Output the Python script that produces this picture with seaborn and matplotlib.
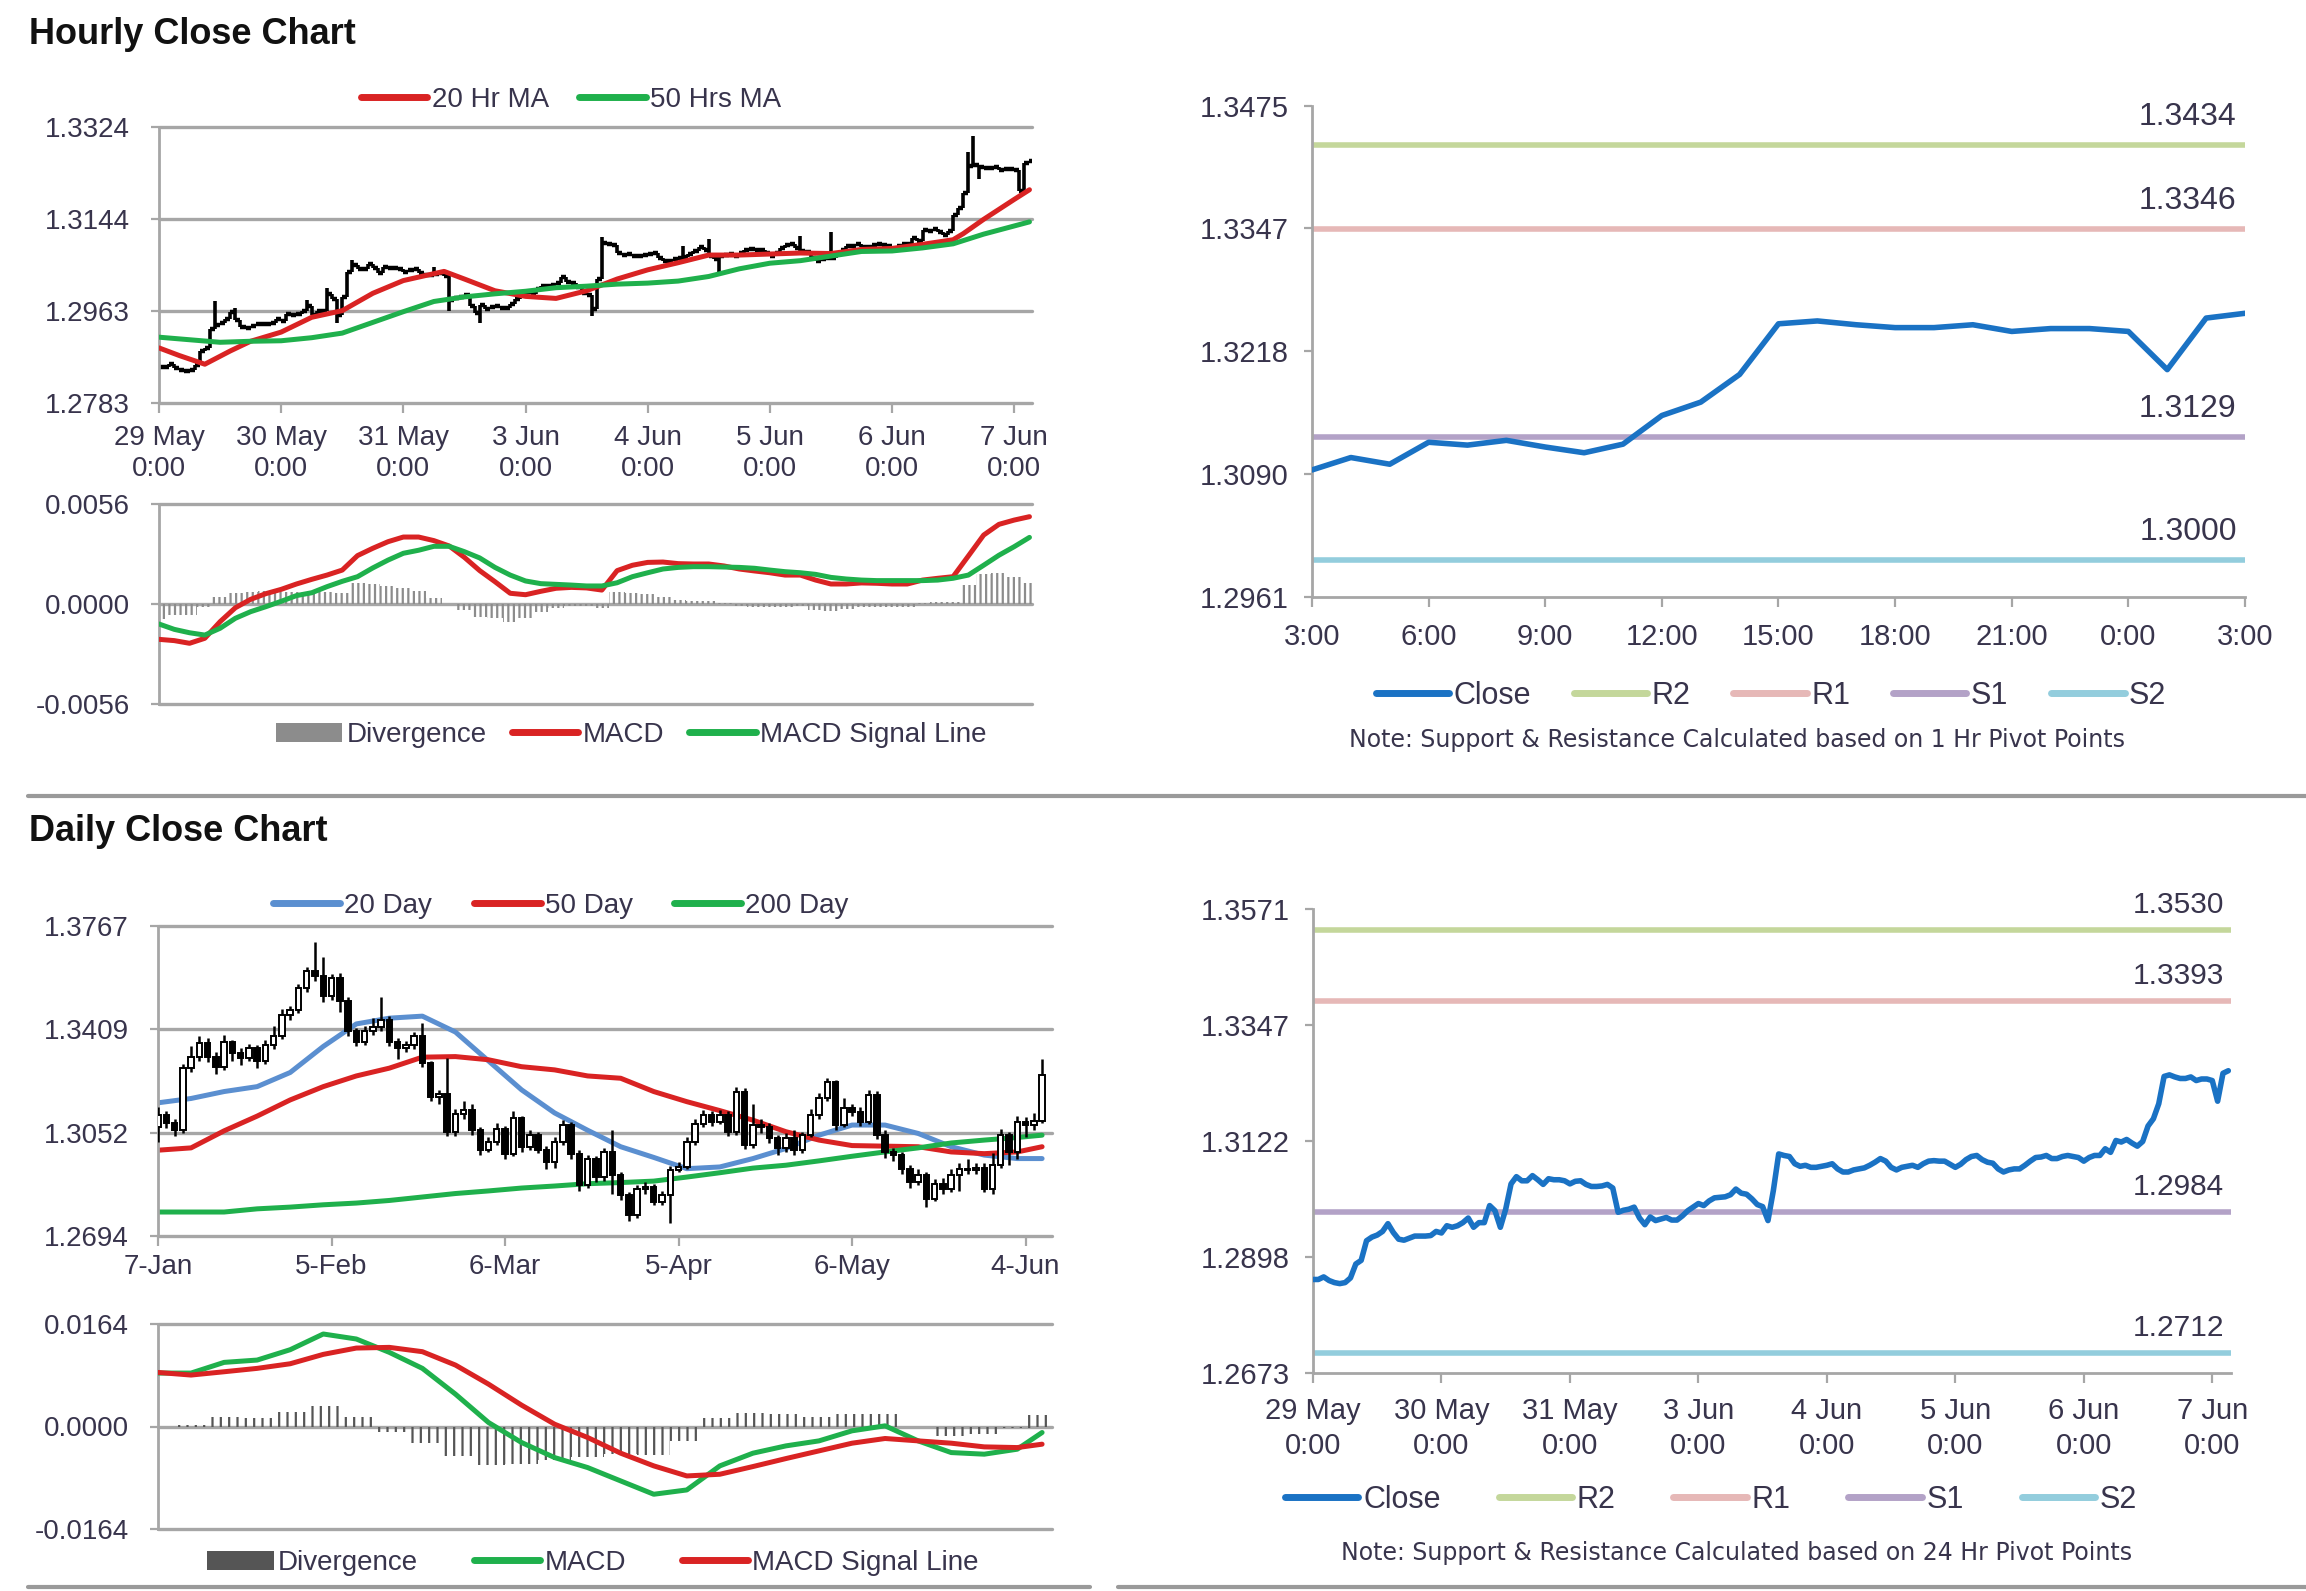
import numpy as np
import pandas as pd
import matplotlib
matplotlib.use("Agg")
import matplotlib.pyplot as plt
import seaborn as sns
from matplotlib.lines import Line2D
from matplotlib.patches import Patch, Rectangle

sns.set_theme(style="white")
plt.rcParams['font.family'] = ['Liberation Sans', 'DejaVu Sans']
plt.rcParams['hatch.linewidth'] = 1.6

# ---------------- hourly data: 29 May 0:00 -> 7 Jun 3:00 ----------------
hourly_first_open = 1.2850
hourly_close = [
    # 29 May
    1.2854, 1.2854, 1.2859, 1.2852, 1.2848, 1.2846, 1.2848, 1.2857, 1.2884, 1.2891, 1.2929, 1.2936,
    1.2940, 1.2947, 1.2962, 1.2945, 1.2932, 1.2930, 1.2934, 1.2938, 1.2938, 1.2938, 1.2939, 1.2947,
    # 30 May
    1.2944, 1.2958, 1.2955, 1.2958, 1.2964, 1.2973, 1.2955, 1.2964, 1.2964, 1.2997, 1.2987, 1.2955,
    1.2990, 1.3039, 1.3053, 1.3045, 1.3045, 1.3055, 1.3047, 1.3038, 1.3049, 1.3047, 1.3047, 1.3045,
    # 31 May
    1.3039, 1.3044, 1.3045, 1.3038, 1.3034, 1.3034, 1.3035, 1.3038, 1.3031, 1.2984, 1.2988, 1.2990,
    1.2994, 1.2973, 1.2960, 1.2975, 1.2968, 1.2971, 1.2974, 1.2969, 1.2969, 1.2977, 1.2987, 1.2994,
    # 3 Jun
    1.3001, 1.2997, 1.3006, 1.3012, 1.3013, 1.3014, 1.3018, 1.3029, 1.3021, 1.3019, 1.3010, 1.2999,
    1.2995, 1.2968, 1.3026, 1.3097, 1.3094, 1.3092, 1.3078, 1.3073, 1.3075, 1.3071, 1.3071, 1.3073,
    # 4 Jun
    1.3075, 1.3078, 1.3068, 1.3062, 1.3062, 1.3066, 1.3068, 1.3070, 1.3075, 1.3081, 1.3088, 1.3083,
    1.3071, 1.3066, 1.3071, 1.3073, 1.3075, 1.3071, 1.3078, 1.3083, 1.3084, 1.3083, 1.3083, 1.3077,
    # 5 Jun
    1.3071, 1.3077, 1.3086, 1.3092, 1.3094, 1.3086, 1.3081, 1.3079, 1.3068, 1.3062, 1.3066, 1.3068,
    1.3068, 1.3075, 1.3083, 1.3090, 1.3091, 1.3094, 1.3088, 1.3088, 1.3092, 1.3094, 1.3092, 1.3090,
    # 6 Jun
    1.3083, 1.3090, 1.3094, 1.3094, 1.3107, 1.3100, 1.3123, 1.3120, 1.3125, 1.3118, 1.3112, 1.3121,
    1.3151, 1.3165, 1.3194, 1.3247, 1.3250, 1.3246, 1.3243, 1.3243, 1.3246, 1.3239, 1.3242, 1.3242,
    # 7 Jun
    1.3239, 1.3199, 1.3253, 1.3258,
]
spike_hi_hours = [11, 15, 29, 33, 38, 54, 87, 103, 108, 126, 132, 159, 160]
spike_hi_values = [1.2982, 1.2970, 1.2985, 1.3008, 1.3063, 1.3050, 1.3109, 1.3091, 1.3104,
                   1.3110, 1.3119, 1.3275, 1.3306]
spike_lo_hours = [35, 57, 63, 85, 110, 161, 169]
spike_lo_values = [1.2940, 1.2964, 1.2940, 1.2953, 1.3037, 1.3223, 1.3200]

ma20_hr_hours = [0, 4, 9, 14, 18, 24, 30, 36, 42, 48, 52, 56, 60, 66, 72, 78, 84, 90, 96, 102,
                 108, 114, 120, 126, 132, 138, 144, 150, 156, 158, 162, 168, 171]
ma20_hr = [1.2891, 1.2876, 1.2859, 1.2885, 1.2904, 1.2922, 1.2951, 1.2964, 1.2998, 1.3023, 1.3032,
           1.3041, 1.3026, 1.3003, 1.2992, 1.2988, 1.3003, 1.3026, 1.3044, 1.3058, 1.3073, 1.3073,
           1.3075, 1.3077, 1.3076, 1.3084, 1.3086, 1.3094, 1.3103, 1.3115, 1.3143, 1.3182, 1.3201]
ma50_hr_hours = [0, 6, 12, 18, 24, 30, 36, 42, 48, 54, 60, 66, 72, 78, 84, 90, 96, 102, 108, 114,
                 120, 126, 132, 138, 144, 150, 156, 162, 168, 171]
ma50_hr = [1.2912, 1.2907, 1.2902, 1.2904, 1.2905, 1.2911, 1.2920, 1.2941, 1.2962, 1.2982, 1.2991,
           1.2997, 1.3002, 1.3009, 1.3012, 1.3016, 1.3018, 1.3022, 1.3031, 1.3046, 1.3057, 1.3062,
           1.3071, 1.3080, 1.3081, 1.3087, 1.3095, 1.3114, 1.3130, 1.3138]

macd_hr_hours = list(range(0, 172, 3))
macd_hr = [-0.00198, -0.00205, -0.00220, -0.00192, -0.00099, -0.00021, 0.00026, 0.00058, 0.00082,
           0.00112, 0.00138, 0.00162, 0.00190, 0.00271, 0.00312, 0.00349, 0.00375, 0.00375, 0.00355,
           0.00325, 0.00261, 0.00187, 0.00125, 0.00060, 0.00052, 0.00071, 0.00088, 0.00093, 0.00090,
           0.00078, 0.00187, 0.00217, 0.00233, 0.00235, 0.00226, 0.00224, 0.00224, 0.00213, 0.00196,
           0.00185, 0.00175, 0.00162, 0.00162, 0.00134, 0.00112, 0.00112, 0.00118, 0.00116, 0.00112,
           0.00112, 0.00134, 0.00144, 0.00153, 0.00269, 0.00386, 0.00446, 0.00470, 0.00489]
signal_hr = [-0.00112, -0.00142, -0.00161, -0.00174, -0.00136, -0.00080, -0.00043, -0.00015, 0.00015,
             0.00047, 0.00063, 0.00097, 0.00127, 0.00153, 0.00202, 0.00246, 0.00284, 0.00301, 0.00323,
             0.00323, 0.00293, 0.00258, 0.00205, 0.00162, 0.00129, 0.00114, 0.00110, 0.00106, 0.00101,
             0.00101, 0.00119, 0.00153, 0.00175, 0.00196, 0.00205, 0.00209, 0.00209, 0.00207, 0.00205,
             0.00200, 0.00190, 0.00181, 0.00175, 0.00166, 0.00149, 0.00140, 0.00134, 0.00131, 0.00131,
             0.00131, 0.00131, 0.00134, 0.00144, 0.00162, 0.00217, 0.00273, 0.00321, 0.00373]

hour_ticks = [0, 24, 48, 72, 96, 120, 144, 168]
hour_tick_labels = ["29 May\n0:00", "30 May\n0:00", "31 May\n0:00", "3 Jun\n0:00",
                    "4 Jun\n0:00", "5 Jun\n0:00", "6 Jun\n0:00", "7 Jun\n0:00"]
last_day_labels = ["3:00", "6:00", "9:00", "12:00", "15:00", "18:00", "21:00", "0:00", "3:00"]

pivot_names = ["R2", "R1", "S1", "S2"]
pivot_colors = ["#c4d79b", "#e6b8b7", "#b3a2c7", "#93cddd"]
pivots_1hr = [1.3434, 1.3346, 1.3129, 1.3000]
pivots_24hr = [1.3530, 1.3393, 1.2984, 1.2712]

# ---------------- daily data: 7 Jan -> 6 Jun ----------------
daily_first_open = 1.3072
daily_close = [
    1.3113, 1.3084, 1.3060, 1.3275, 1.3315, 1.3361, 1.3315, 1.3280, 1.3367, 1.3327,
    1.3309, 1.3344, 1.3298, 1.3356, 1.3385, 1.3460, 1.3477, 1.3552, 1.3610, 1.3593,
    1.3523, 1.3587, 1.3506, 1.3402, 1.3367, 1.3402, 1.3419, 1.3442, 1.3367, 1.3344,
    1.3356, 1.3385, 1.3292, 1.3176, 1.3185, 1.3055, 1.3118, 1.3130, 1.3060, 1.2991,
    1.3020, 1.3066, 1.2979, 1.3101, 1.3003, 1.3043, 1.2991, 1.2950, 1.3020, 1.3078,
    1.2979, 1.2869, 1.2962, 1.2898, 1.2985, 1.2904, 1.2835, 1.2765, 1.2858, 1.2864,
    1.2812, 1.2835, 1.2922, 1.2933, 1.3020, 1.3081, 1.3113, 1.3089, 1.3113, 1.3055,
    1.3194, 1.3008, 1.3078, 1.3072, 1.3032, 1.2997, 1.3032, 1.2991, 1.3043, 1.3113,
    1.3170, 1.3228, 1.3078, 1.3136, 1.3124, 1.3089, 1.3182, 1.3043, 1.2985, 1.2974,
    1.2927, 1.2881, 1.2904, 1.2823, 1.2873, 1.2858, 1.2904, 1.2927, 1.2924, 1.2931,
    1.2858, 1.2939, 1.3043, 1.2985, 1.3089, 1.3078, 1.3092, 1.3250,
]
daily_high = [
    1.3141, 1.3128, 1.3100, 1.3290, 1.3350, 1.3385, 1.3380, 1.3330, 1.3390, 1.3372,
    1.3345, 1.3360, 1.3355, 1.3372, 1.3420, 1.3478, 1.3490, 1.3565, 1.3625, 1.3710,
    1.3660, 1.3600, 1.3605, 1.3520, 1.3415, 1.3420, 1.3450, 1.3520, 1.3455, 1.3380,
    1.3370, 1.3400, 1.3430, 1.3300, 1.3200, 1.3310, 1.3135, 1.3160, 1.3150, 1.3070,
    1.3035, 1.3085, 1.3075, 1.3125, 1.3110, 1.3060, 1.3055, 1.3005, 1.3035, 1.3095,
    1.3090, 1.2990, 1.2975, 1.2970, 1.3000, 1.3060, 1.2915, 1.2845, 1.2870, 1.2880,
    1.2875, 1.2850, 1.2935, 1.2950, 1.3035, 1.3100, 1.3130, 1.3125, 1.3130, 1.3125,
    1.3210, 1.3205, 1.3150, 1.3100, 1.3085, 1.3045, 1.3050, 1.3060, 1.3055, 1.3135,
    1.3190, 1.3240, 1.3235, 1.3170, 1.3150, 1.3140, 1.3200, 1.3195, 1.3060, 1.3000,
    1.2985, 1.2940, 1.2925, 1.2915, 1.2890, 1.2895, 1.2925, 1.2945, 1.2960, 1.2945,
    1.2945, 1.2982, 1.3063, 1.3055, 1.3109, 1.3106, 1.3119, 1.3306,
]
daily_low = [
    1.3020, 1.3068, 1.3040, 1.3052, 1.3262, 1.3300, 1.3295, 1.3255, 1.3270, 1.3300,
    1.3285, 1.3300, 1.3275, 1.3290, 1.3340, 1.3375, 1.3440, 1.3465, 1.3540, 1.3575,
    1.3505, 1.3510, 1.3470, 1.3385, 1.3350, 1.3355, 1.3390, 1.3405, 1.3350, 1.3305,
    1.3330, 1.3340, 1.3280, 1.3160, 1.3150, 1.3040, 1.3040, 1.3100, 1.3045, 1.2975,
    1.2985, 1.3010, 1.2960, 1.2970, 1.2985, 1.2990, 1.2980, 1.2925, 1.2930, 1.3010,
    1.2960, 1.2850, 1.2860, 1.2880, 1.2885, 1.2840, 1.2820, 1.2745, 1.2755, 1.2840,
    1.2800, 1.2800, 1.2740, 1.2915, 1.2925, 1.3010, 1.3070, 1.3075, 1.3080, 1.3040,
    1.3045, 1.2995, 1.3000, 1.3050, 1.3015, 1.2975, 1.2985, 1.2975, 1.2980, 1.3035,
    1.3100, 1.3160, 1.3060, 1.3070, 1.3110, 1.3075, 1.3080, 1.3030, 1.2965, 1.2955,
    1.2910, 1.2860, 1.2870, 1.2795, 1.2815, 1.2840, 1.2845, 1.2850, 1.2910, 1.2910,
    1.2845, 1.2840, 1.2930, 1.2940, 1.2960, 1.3037, 1.3060, 1.3085,
]

ma_day_idx = [0, 4, 8, 12, 16, 20, 24, 28, 32, 36, 40, 44, 48, 52, 56, 60, 64, 68, 72, 76,
              80, 84, 88, 92, 96, 100, 104, 107]
ma20_day = [1.3155, 1.3170, 1.3194, 1.3211, 1.3260, 1.3350, 1.3428, 1.3448, 1.3455, 1.3400,
            1.3300, 1.3200, 1.3120, 1.3060, 1.3003, 1.2966, 1.2927, 1.2933, 1.2962, 1.2997,
            1.3043, 1.3078, 1.3078, 1.3049, 1.3003, 1.2974, 1.2962, 1.2962]
ma50_day = [1.2991, 1.2999, 1.3058, 1.3109, 1.3165, 1.3211, 1.3248, 1.3275, 1.3313, 1.3315,
            1.3304, 1.3280, 1.3269, 1.3248, 1.3240, 1.3194, 1.3159, 1.3128, 1.3095, 1.3055,
            1.3026, 1.3007, 1.3005, 1.3003, 1.2985, 1.2979, 1.2985, 1.3003]
ma200_day = [1.2777, 1.2777, 1.2777, 1.2788, 1.2794, 1.2802, 1.2808, 1.2817, 1.2829, 1.2841,
             1.2850, 1.2860, 1.2867, 1.2875, 1.2879, 1.2884, 1.2898, 1.2913, 1.2929, 1.2939,
             1.2954, 1.2970, 1.2985, 1.2999, 1.3016, 1.3026, 1.3035, 1.3043]
macd_day = [0.00855, 0.00855, 0.01026, 0.01063, 0.01229, 0.01480, 0.01400, 0.01186, 0.00930, 0.00518,
            0.00064, -0.00256, -0.00497, -0.00657, -0.00871, -0.01084, -0.01015, -0.00630, -0.00427,
            -0.00310, -0.00230, -0.00069, 0.00011, -0.00230, -0.00417, -0.00443, -0.00363, -0.00096]
signal_day = [0.00865, 0.00823, 0.00876, 0.00930, 0.01004, 0.01154, 0.01255, 0.01266, 0.01197,
              0.00983, 0.00678, 0.00342, 0.00037, -0.00176, -0.00427, -0.00630, -0.00791, -0.00764,
              -0.00641, -0.00513, -0.00390, -0.00267, -0.00192, -0.00230, -0.00267, -0.00326,
              -0.00337, -0.00283]

day_ticks = [0, 21, 42, 63, 84, 105]
day_tick_labels = ["7-Jan", "5-Feb", "6-Mar", "5-Apr", "6-May", "4-Jun"]

# ---------------- figure ----------------
W, H = 2306, 1591
fig = plt.figure(figsize=(W / 100, H / 100), dpi=100)
GRID = '#a6a6a6'
TXT = '#38344c'
RED = '#d92323'
GREEN = '#1fb04c'
BLUE20 = '#5b8fd0'
CLOSE = '#1a72c4'
FS = 20


def box(l, t, r, b):
    return [l / W, 1 - b / H, (r - l) / W, (b - t) / H]


def style_left(ax, yticks, ylabels, grid=True, ypad=15, xpad=8, fs=FS):
    ax.set_ylim(yticks[0], yticks[-1])
    ax.set_yticks(yticks)
    ax.set_yticklabels(ylabels)
    for s in ['top', 'right']:
        ax.spines[s].set_visible(False)
    ax.spines['left'].set_color(GRID)
    ax.spines['left'].set_linewidth(2)
    ax.spines['bottom'].set_color(GRID)
    ax.spines['bottom'].set_linewidth(2)
    if grid:
        ax.spines['bottom'].set_visible(False)
        for y in yticks:
            ax.axhline(y, color=GRID, lw=2.4, clip_on=False, zorder=0.5)
    ax.tick_params(axis='y', length=6, width=1.6, color=GRID, labelsize=fs, labelcolor=TXT,
                   direction='out', pad=ypad, left=True)
    ax.tick_params(axis='x', length=7, width=1.6, color=GRID, labelsize=fs, labelcolor=TXT,
                   direction='out', pad=xpad, bottom=True)
    ax.set_xlabel('')
    ax.set_ylabel('')


def add_legend(handles, labels, cx, cy, colsp, fs=FS):
    fig.legend(handles, labels, loc='center', bbox_to_anchor=(cx / W, 1 - cy / H),
               ncol=len(handles), frameon=False, fontsize=fs, handlelength=2.4,
               handletextpad=0.15, columnspacing=colsp, labelcolor=TXT)


def lh(color, lw=5):
    return Line2D([], [], color=color, lw=lw)


# titles and separators
fig.text(29 / W, 1 - 35 / H, "Hourly Close Chart", fontsize=26, fontweight='bold',
         va='center', ha='left', color='#111111')
fig.text(29 / W, 1 - 832 / H, "Daily Close Chart", fontsize=26, fontweight='bold',
         va='center', ha='left', color='#111111')
fig.add_artist(Line2D([28 / W, 1], [1 - 796 / H] * 2, color='#9a9a9a', lw=3))
fig.add_artist(Line2D([28 / W, 1090 / W], [1 - 1587 / H] * 2, color='#9a9a9a', lw=3))
fig.add_artist(Line2D([1118 / W, 1], [1 - 1587 / H] * 2, color='#9a9a9a', lw=3))

# ---- hourly OHLC bars with moving averages ----
ax1 = fig.add_axes(box(159, 127, 1032, 403))
h_idx = np.arange(len(hourly_close))
h_open = [hourly_first_open] + hourly_close[:-1]
h_hi = [max(o, c) for o, c in zip(h_open, hourly_close)]
h_lo = [min(o, c) for o, c in zip(h_open, hourly_close)]
for h, v in zip(spike_hi_hours, spike_hi_values):
    h_hi[h] = max(h_hi[h], v)
for h, v in zip(spike_lo_hours, spike_lo_values):
    h_lo[h] = min(h_lo[h], v)
ax1.vlines(h_idx, h_lo, h_hi, color='black', lw=2.6, zorder=2)
ax1.hlines(h_open, h_idx - 0.5, h_idx, color='black', lw=3.2, zorder=2)
ax1.hlines(hourly_close, h_idx, h_idx + 0.5, color='black', lw=3.2, zorder=2)
sns.lineplot(x=ma20_hr_hours, y=ma20_hr, ax=ax1, color=RED, linewidth=3.6, legend=False, zorder=3)
sns.lineplot(x=ma50_hr_hours, y=ma50_hr, ax=ax1, color=GREEN, linewidth=3.6, legend=False, zorder=3)
ax1.set_xlim(0, 171.5)
style_left(ax1, [1.2783, 1.2963, 1.3144, 1.3324], ["1.2783", "1.2963", "1.3144", "1.3324"], xpad=9)
ax1.set_xticks(hour_ticks)
ax1.set_xticklabels(hour_tick_labels, linespacing=1.22)
add_legend([lh(RED), lh(GREEN)], ["20 Hr MA", "50 Hrs MA"], 571, 100, 1.1)

# ---- hourly MACD ----
ax2 = fig.add_axes(box(159, 504, 1032, 704))
div_hr = np.array(macd_hr) - np.array(signal_hr)
ax2.bar(macd_hr_hours, div_hr, width=3, facecolor='none', edgecolor='#8c8c8c', hatch='|||',
        linewidth=0, zorder=1)
sns.lineplot(x=macd_hr_hours, y=macd_hr, ax=ax2, color=RED, linewidth=3.6, legend=False, zorder=3)
sns.lineplot(x=macd_hr_hours, y=signal_hr, ax=ax2, color=GREEN, linewidth=3.6, legend=False, zorder=3)
ax2.set_xlim(0, 171.5)
style_left(ax2, [-0.0056, 0.0, 0.0056], ["-0.0056", "0.0000", "0.0056"])
ax2.set_xticks([])
add_legend([Patch(facecolor='#8c8c8c', edgecolor='none'), lh(RED), lh(GREEN)],
           ["Divergence", "MACD", "MACD Signal Line"], 631, 735, 0.9)

# ---- last 24 hours with 1 hr pivots ----
ax3 = fig.add_axes(box(1312, 106, 2245, 597))
last_close = hourly_close[-25:]
for name, col, val in zip(pivot_names, pivot_colors, pivots_1hr):
    ax3.axhline(val, color=col, lw=4, zorder=1)
    ax3.annotate(f"{val:.4f}", xy=(24, val), xytext=(-6, 20), textcoords='offset points',
                 ha='right', va='center', fontsize=23, color=TXT)
sns.lineplot(x=np.arange(25), y=last_close, ax=ax3, color=CLOSE, linewidth=4, legend=False, zorder=3)
ax3.set_xlim(0, 24)
style_left(ax3, [1.2961, 1.3090, 1.3218, 1.3347, 1.3475],
           ["1.2961", "1.3090", "1.3218", "1.3347", "1.3475"], grid=False, ypad=11, xpad=12, fs=21)
ax3.set_xticks(range(0, 25, 3))
ax3.set_xticklabels(last_day_labels)
add_legend([lh(CLOSE)] + [lh(c) for c in pivot_colors], ["Close"] + pivot_names, 1771, 696, 1.4, fs=22)
fig.text(1737 / W, 1 - 740 / H, "Note: Support & Resistance Calculated based on 1 Hr Pivot Points",
         ha='center', va='center', fontsize=17, color=TXT, family='DejaVu Sans')

# ---- daily candles with moving averages ----
ax4 = fig.add_axes(box(158, 926, 1052, 1236))
sns.lineplot(x=ma_day_idx, y=ma20_day, ax=ax4, color=BLUE20, linewidth=3.6, legend=False, zorder=2)
sns.lineplot(x=ma_day_idx, y=ma50_day, ax=ax4, color=RED, linewidth=3.6, legend=False, zorder=2)
sns.lineplot(x=ma_day_idx, y=ma200_day, ax=ax4, color=GREEN, linewidth=3.6, legend=False, zorder=2)
d_open = [daily_first_open] + daily_close[:-1]
for i, (o, c, hi, lo) in enumerate(zip(d_open, daily_close, daily_high, daily_low)):
    ax4.vlines(i, min(lo, o, c), max(hi, o, c), color='black', lw=1.8, zorder=3)
    ax4.add_patch(Rectangle((i - 0.33, min(o, c)), 0.66, abs(c - o),
                            facecolor='white' if c > o else 'black', edgecolor='black',
                            lw=1.4, zorder=4))
ax4.set_xlim(0, 108.2)
style_left(ax4, [1.2694, 1.3052, 1.3409, 1.3767], ["1.2694", "1.3052", "1.3409", "1.3767"], xpad=6)
ax4.set_xticks(day_ticks)
ax4.set_xticklabels(day_tick_labels)
add_legend([lh(BLUE20), lh(RED), lh(GREEN)], ["20 Day", "50 Day", "200 Day"], 561, 906, 1.5)

# ---- daily MACD ----
ax5 = fig.add_axes(box(158, 1324, 1052, 1529))
div_day = np.array(macd_day) - np.array(signal_day)
ax5.bar(ma_day_idx, div_day, width=4, facecolor='none', edgecolor='#555555', hatch='||',
        linewidth=0, zorder=1)
sns.lineplot(x=ma_day_idx, y=macd_day, ax=ax5, color=GREEN, linewidth=3.6, legend=False, zorder=3)
sns.lineplot(x=ma_day_idx, y=signal_day, ax=ax5, color=RED, linewidth=3.6, legend=False, zorder=3)
ax5.set_xlim(0, 108.2)
style_left(ax5, [-0.0164, 0.0, 0.0164], ["-0.0164", "0.0000", "0.0164"])
ax5.set_xticks([])
add_legend([Patch(facecolor='#555555', edgecolor='none'), lh(GREEN), lh(RED)],
           ["Divergence", "MACD", "MACD Signal Line"], 593, 1563, 2.0)

# ---- hourly close with 24 hr pivots ----
ax6 = fig.add_axes(box(1313, 909, 2231, 1373))
for name, col, val in zip(pivot_names, pivot_colors, pivots_24hr):
    ax6.axhline(val, color=col, lw=4, zorder=1)
    ax6.annotate(f"{val:.4f}", xy=(171.5, val), xytext=(-5, 18), textcoords='offset points',
                 ha='right', va='center', fontsize=21.5, color=TXT)
sns.lineplot(x=h_idx, y=hourly_close, ax=ax6, color=CLOSE, linewidth=4, legend=False, zorder=3)
ax6.set_xlim(0, 171.5)
style_left(ax6, [1.2673, 1.2898, 1.3122, 1.3347, 1.3571],
           ["1.2673", "1.2898", "1.3122", "1.3347", "1.3571"], grid=False, ypad=11, xpad=10, fs=21)
ax6.set_xticks(hour_ticks)
ax6.set_xticklabels(hour_tick_labels, linespacing=1.35)
add_legend([lh(CLOSE)] + [lh(c) for c in pivot_colors], ["Close"] + pivot_names, 1711, 1500, 1.9, fs=22)
fig.text(1737 / W, 1 - 1553 / H, "Note: Support & Resistance Calculated based on 24 Hr Pivot Points",
         ha='center', va='center', fontsize=17, color=TXT, family='DejaVu Sans')

fig.savefig("out.png", dpi=100, facecolor='white')
